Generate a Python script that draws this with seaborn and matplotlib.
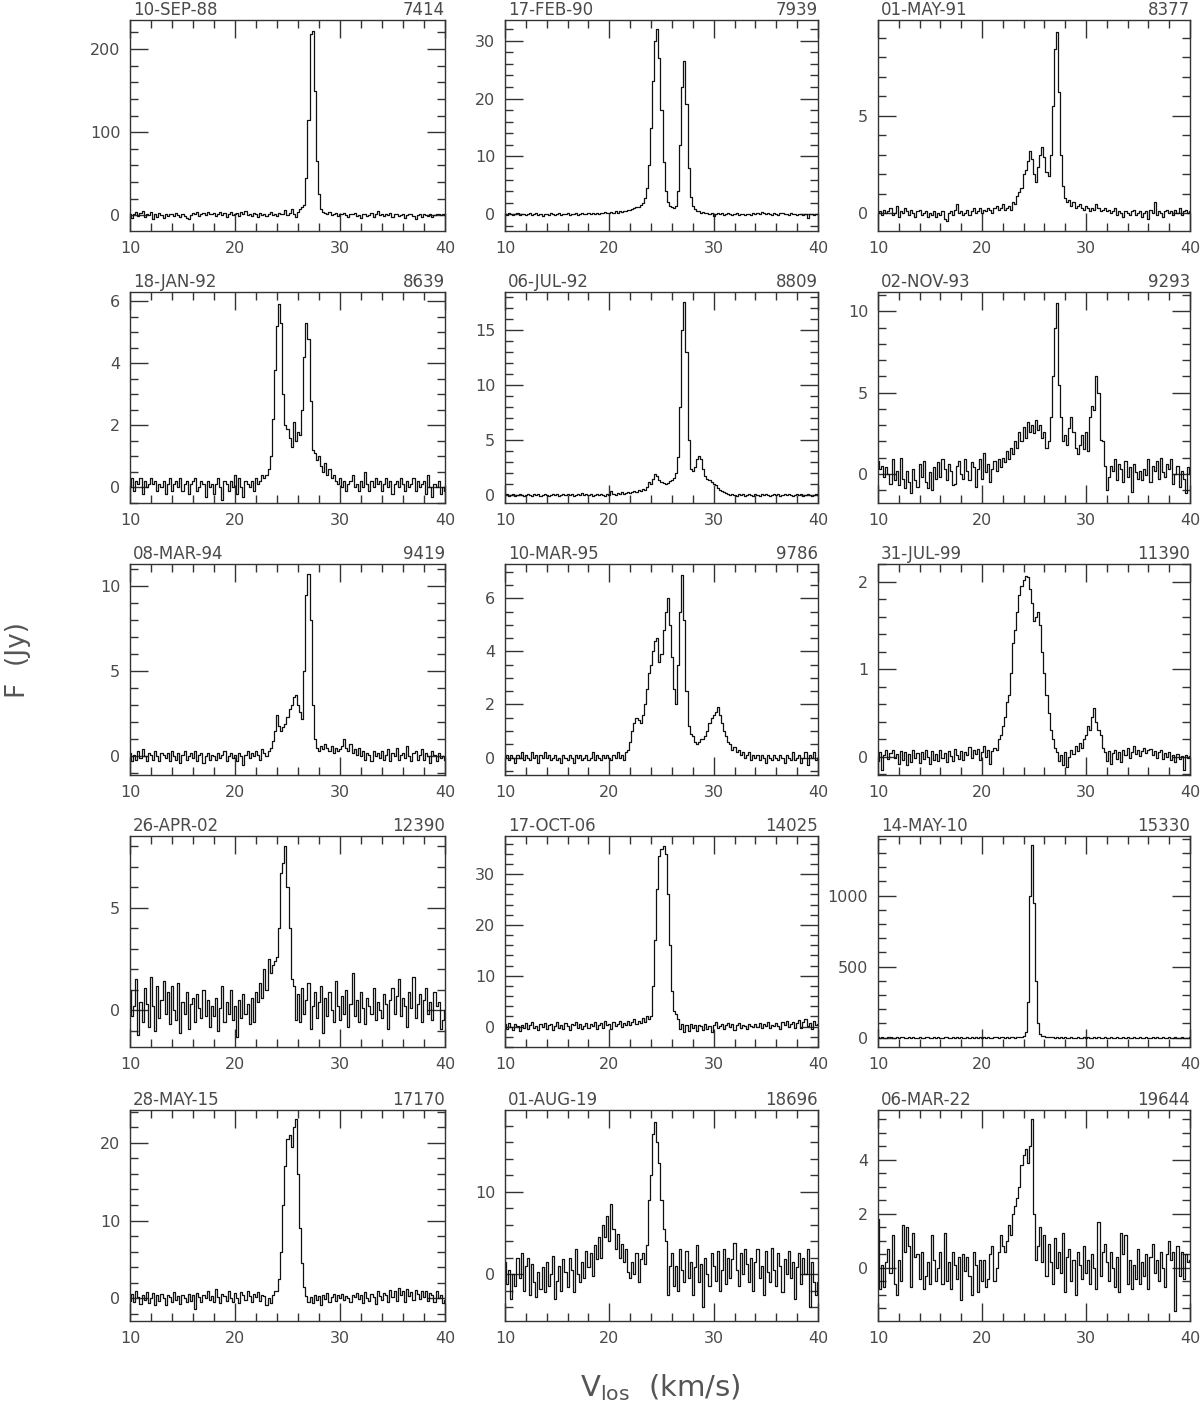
import numpy as np
import pandas as pd
import matplotlib
matplotlib.use("Agg")
import matplotlib.pyplot as plt
from matplotlib.ticker import MultipleLocator
import seaborn as sns

# velocity channels: start and width (km/s), 151 channels from 10 to 40
V0 = 10.0
DV = 0.2

dates = ["10-SEP-88", "17-FEB-90", "01-MAY-91",
         "18-JAN-92", "06-JUL-92", "02-NOV-93",
         "08-MAR-94", "10-MAR-95", "31-JUL-99",
         "26-APR-02", "17-OCT-06", "14-MAY-10",
         "28-MAY-15", "01-AUG-19", "06-MAR-22"]
days = ["7414", "7939", "8377", "8639", "8809", "9293", "9419", "9786",
        "11390", "12390", "14025", "15330", "17170", "18696", "19644"]

# flux (Jy) per channel
f_880910 = [1, -3, 2, 4, -1, 3, 5, -2, 2, 0,
            4, -4, 1, -2, 3, 0, -3, 2, -1, 1,
            2, -1, 3, 0, -2, 1, -1, -3, -5, 0,
            3, 1, 4, -1, 2, 3, 0, 4, 1, 2,
            3, -1, 2, 4, 0, 3, -2, 1, 4, 0,
            2, 3, -1, 4, 1, 5, 0, 2, -1, 3,
            1, -2, 3, 0, 2, -1, 1, 4, 0, 2,
            -1, 3, 1, 2, 6, 0, 3, 7, 1, -2,
            4, 7, 10, 12, 45, 115, 218, 222, 150, 65,
            25, 8, 4, 3, 1, 4, 0, 2, 3, -1,
            2, 1, 3, 0, -2, 2, 1, 3, -1, 0,
            -3, 1, 2, -1, 0, 3, -2, 1, 5, 0,
            2, -1, 1, 0, 3, -2, 1, 2, -1, 0,
            1, -3, 0, 2, 1, -1, -4, 0, 1, -2,
            2, 0, -1, 1, -2, 0, 1, 2, 0, 1,
            0]

f_900217 = [0.1, -0.1, 0.2, 0.0, -0.2, 0.1, 0.3, -0.1, 0.0, 0.1,
            -0.2, 0.1, 0.2, -0.1, 0.0, 0.2, -0.1, 0.1, -0.3, 0.0,
            0.1, -0.2, 0.2, 0.0, -0.1, 0.1, 0.2, -0.2, 0.0, 0.1,
            0.2, -0.1, 0.0, 0.1, 0.3, -0.1, 0.1, 0.2, 0.0, 0.1,
            0.2, 0.0, 0.3, 0.1, 0.2, 0.0, 0.3, 0.2, 0.4, 0.2,
            0.3, 0.4, 0.2, 0.5, 0.3, 0.5, 0.4, 0.6, 0.5, 0.8,
            0.7, 0.9, 1.0, 1.2, 1.3, 1.6, 2.0, 2.8, 4.5, 8.5,
            15.0, 23.0, 30.0, 32.0, 27.0, 18.0, 9.0, 4.0, 2.2, 1.5,
            1.2, 1.0, 1.5, 4.0, 12.0, 22.0, 26.5, 19.0, 8.0, 3.0,
            1.5, 0.9, 0.6, 0.5, 0.3, 0.4, 0.2, 0.3, 0.1, 0.2,
            -0.3, 0.1, 0.2, 0.0, 0.3, -0.1, 0.1, 0.2, 0.0, -0.1,
            0.1, 0.2, -0.1, 0.0, 0.1, -0.2, 0.0, 0.1, -0.1, 0.2,
            0.0, 0.3, 0.1, 0.4, 0.2, 0.0, 0.3, 0.1, -0.1, 0.2,
            0.1, -0.1, 0.2, 0.3, 0.0, 0.1, -0.2, 0.2, 0.1, 0.0,
            -0.1, 0.1, 0.0, -0.2, 0.1, -0.6, 0.0, 0.1, -0.1, 0.0,
            0.0]

f_910501 = [0.0, 0.1, -0.1, 0.2, 0.0, 0.1, 0.3, -0.1, 0.0, 0.4,
            -0.2, 0.1, 0.0, 0.3, 0.1, -0.1, 0.2, 0.0, -0.2, 0.1,
            0.2, -0.1, 0.0, 0.1, -0.2, 0.0, -0.1, 0.1, -0.2, 0.0,
            -0.1, 0.1, -0.3, -0.4, 0.0, 0.1, -0.1, 0.2, 0.5, 0.0,
            0.1, -0.1, 0.0, 0.2, -0.1, 0.1, 0.3, 0.0, 0.1, 0.3,
            0.0, 0.2, 0.1, 0.3, 0.2, 0.0, 0.3, 0.4, 0.2, 0.3,
            0.5, 0.2, 0.3, 0.4, 0.2, 0.6, 0.5, 0.9, 1.1, 1.3,
            2.0, 2.2, 2.7, 3.2, 2.8, 2.0, 1.6, 2.4, 3.0, 3.4,
            2.9, 2.1, 1.9, 3.0, 5.5, 8.4, 9.3, 6.2, 3.0, 1.4,
            0.8, 0.6, 0.7, 0.4, 0.6, 0.3, 0.4, 0.5, 0.3, 0.2,
            0.4, 0.3, 0.1, 0.3, 0.2, 0.5, 0.3, 0.1, 0.2, 0.3,
            0.1, 0.2, 0.0, 0.1, 0.3, -0.1, 0.1, 0.0, -0.2, 0.1,
            0.0, -0.1, 0.1, 0.2, -0.1, 0.0, 0.1, -0.2, 0.0, 0.1,
            -0.3, 0.2, 0.0, 0.6, -0.1, 0.1, 0.0, -0.2, 0.1, 0.2,
            0.0, 0.1, -0.1, 0.2, 0.0, 0.3, -0.1, 0.1, 0.2, 0.0,
            0.1]

f_920118 = [0.0, 0.3, -0.1, 0.2, 0.1, 0.3, -0.2, 0.2, 0.0, 0.1,
            0.3, 0.1, 0.2, -0.1, 0.1, 0.0, 0.2, -0.2, 0.1, 0.3,
            -0.1, 0.1, 0.2, 0.0, 0.3, -0.1, 0.1, 0.2, -0.2, 0.1,
            0.2, 0.3, -0.1, 0.0, 0.2, 0.1, -0.3, 0.2, 0.0, 0.1,
            -0.2, 0.1, 0.3, 0.0, -0.4, 0.2, 0.1, -0.1, 0.2, 0.0,
            0.4, -0.2, 0.3, 0.0, -0.3, 0.2, 0.1, 0.0, 0.2, -0.1,
            0.3, 0.1, 0.2, 0.4, 0.3, 0.4, 0.6, 1.0, 2.2, 3.8,
            5.2, 5.9, 5.3, 3.0, 2.0, 1.9, 1.6, 1.3, 2.1, 1.5,
            1.8, 1.7, 2.5, 4.2, 5.3, 4.8, 2.8, 1.2, 1.1, 0.9,
            1.0, 0.7, 0.5, 0.8, 0.4, 0.6, 0.3, 0.4, 0.2, 0.1,
            0.3, 0.0, 0.2, -0.1, 0.1, 0.2, 0.4, 0.0, 0.1, -0.1,
            0.2, 0.0, 0.5, 0.1, -0.1, 0.2, 0.0, 0.3, 0.1, 0.2,
            -0.1, 0.1, 0.3, 0.0, 0.2, -0.2, 0.1, 0.2, 0.0, 0.3,
            0.1, -0.1, 0.2, 0.0, 0.1, 0.3, -0.1, 0.2, 0.0, 0.1,
            0.2, -0.2, 0.4, 0.0, -0.3, 0.1, 0.0, 0.2, -0.2, 0.0,
            -0.1]

f_920706 = [0.0, 0.1, -0.1, 0.0, 0.1, -0.1, 0.0, 0.1, 0.0, -0.1,
            0.0, 0.1, 0.0, -0.1, 0.1, 0.0, 0.1, -0.1, 0.0, 0.1,
            0.0, -0.1, 0.0, 0.1, 0.0, 0.1, -0.1, 0.0, 0.1, 0.0,
            0.1, 0.0, 0.1, -0.1, 0.0, 0.1, 0.0, 0.2, 0.0, 0.1,
            0.0, 0.1, -0.1, 0.0, 0.1, 0.0, 0.1, 0.0, -0.1, 0.1,
            0.0, 0.4, 0.1, 0.0, 0.2, 0.1, 0.3, 0.1, 0.2, 0.3,
            0.2, 0.3, 0.4, 0.3, 0.5, 0.4, 0.6, 0.5, 0.8, 1.2,
            1.0, 1.5, 1.9, 1.8, 1.4, 1.2, 1.1, 1.0, 1.1, 1.3,
            1.4, 1.6, 2.0, 3.5, 8.0, 15.0, 17.6, 13.0, 5.0, 2.4,
            2.2, 2.6, 3.3, 3.6, 3.3, 2.4, 1.8, 1.5, 1.4, 1.2,
            1.0, 0.9, 0.7, 0.5, 0.4, 0.3, 0.2, 0.1, 0.0, 0.1,
            0.0, -0.1, 0.1, 0.0, 0.1, -0.1, 0.0, 0.1, 0.0, -0.1,
            0.1, 0.0, -0.1, 0.1, 0.0, 0.1, 0.0, -0.1, 0.0, 0.1,
            0.0, 0.1, -0.1, 0.0, 0.1, 0.0, 0.1, 0.0, -0.1, 0.0,
            0.1, 0.0, 0.1, -0.1, 0.0, 0.1, 0.0, -0.1, 0.0, 0.1,
            0.0]

f_931102 = [0.8, 0.3, 0.5, -0.2, 0.4, 0.0, -0.6, 0.9, -0.4, 0.2,
            -0.7, 1.0, -0.3, -0.9, 0.2, -0.5, -1.2, 0.3, -0.4, -0.8,
            0.6, -0.2, 0.8, -0.5, -0.9, 0.1, -1.0, 0.4, -0.3, 0.7,
            -0.2, 0.9, 0.3, -0.4, 0.6, 0.2, -0.7, -0.6, 0.5, 0.8,
            0.0, -0.3, 0.9, 0.2, -0.4, 0.7, 0.4, -0.8, 0.3, 0.9,
            -0.3, 1.3, 0.1, 0.6, -0.5, 0.3, 0.8, 0.2, 0.9, 0.4,
            1.0, 0.7, 1.4, 0.9, 1.6, 1.2, 2.0, 1.6, 2.6, 2.0,
            2.9, 2.2, 3.2, 2.6, 3.0, 2.5, 3.3, 2.7, 3.0, 2.2,
            2.6, 1.6, 2.0, 3.5, 6.0, 9.0, 10.5, 5.5, 3.5, 2.0,
            2.4, 1.8, 2.8, 3.5, 2.6, 1.6, 1.2, 1.8, 2.4, 1.5,
            2.6, 1.4, 3.5, 4.2, 3.9, 6.0, 5.0, 2.1, 2.0, 0.5,
            -1.0, -0.2, 0.5, 0.2, 0.9, -0.4, 0.6, 0.3, -0.5, 0.8,
            -0.2, 0.4, -1.1, 0.6, 0.1, -0.3, 0.2, -0.4, 0.3, -0.1,
            0.9, -0.5, 0.5, 0.2, 0.8, -0.3, 1.0, 0.1, -0.2, 0.6,
            0.3, 0.9, -0.6, 0.0, 0.5, -0.8, 0.2, -0.3, -1.2, 0.4,
            0.0]

f_940308 = [0.2, -0.3, 0.1, -0.2, 0.3, -0.1, 0.4, 0.0, -0.3, 0.2,
            0.1, -0.2, 0.3, 0.0, -0.3, 0.2, 0.1, -0.1, 0.2, -0.3,
            0.3, 0.0, -0.2, 0.2, -0.4, 0.1, 0.3, -0.2, 0.0, 0.2,
            -0.1, 0.3, -0.3, 0.1, 0.2, -0.4, 0.0, 0.2, -0.2, 0.1,
            0.0, -0.2, 0.2, -0.1, 0.1, 0.3, -0.3, 0.0, 0.2, -0.1,
            0.1, -0.3, 0.2, 0.0, -0.5, 0.1, 0.3, -0.1, 0.2, 0.0,
            0.3, 0.1, -0.2, 0.4, 0.2, 0.0, 0.3, 0.5, 0.9, 1.5,
            2.4, 1.8, 1.5, 1.7, 1.9, 2.3, 2.8, 3.0, 3.5, 3.6,
            3.0, 2.6, 2.2, 5.0, 9.5, 10.7, 8.0, 3.0, 1.0, 0.5,
            0.3, 0.6, 0.4, 0.7, 0.5, 0.3, 0.6, 0.2, 0.5, 0.3,
            0.4, 0.6, 1.0, 0.5, 0.3, 0.7, 0.2, 0.4, 0.1, 0.5,
            0.0, 0.3, -0.2, 0.2, 0.1, -0.3, 0.3, 0.0, 0.2, -0.1,
            0.3, -0.2, 0.1, 0.4, -0.3, 0.2, 0.0, 0.5, -0.2, 0.1,
            0.2, -0.1, 0.6, 0.0, -0.3, 0.2, 0.3, -0.2, 0.1, 0.4,
            -0.2, 0.2, 0.0, -0.4, 0.3, 0.1, -0.3, 0.2, -0.1, 0.0,
            -0.2]

f_950310 = [0.0, 0.1, -0.1, 0.1, 0.0, -0.2, 0.1, 0.0, 0.2, -0.1,
            0.1, 0.0, -0.1, 0.2, 0.0, 0.1, -0.2, 0.1, 0.0, 0.2,
            0.0, 0.1, -0.1, 0.0, 0.1, -0.1, 0.0, -0.2, 0.1, 0.0,
            -0.1, 0.1, 0.0, -0.2, 0.1, 0.0, 0.1, -0.1, 0.0, 0.1,
            -0.1, 0.0, 0.2, -0.1, 0.1, 0.0, -0.1, 0.1, 0.0, 0.1,
            0.0, -0.1, 0.1, 0.0, 0.2, 0.0, 0.1, -0.1, 0.2, 0.3,
            0.6, 1.0, 1.3, 1.5, 1.4, 1.3, 1.6, 2.0, 2.6, 3.2,
            3.5, 4.0, 4.4, 4.5, 3.6, 3.9, 4.8, 5.5, 6.0, 5.0,
            3.8, 2.6, 2.0, 3.5, 5.5, 6.9, 5.2, 2.5, 1.2, 0.9,
            0.8, 0.6, 0.5, 0.6, 0.7, 0.7, 0.8, 1.0, 1.3, 1.5,
            1.6, 1.7, 1.9, 1.6, 1.3, 1.0, 0.8, 0.6, 0.5, 0.3,
            0.4, 0.2, 0.3, 0.1, 0.2, 0.0, 0.1, 0.2, -0.1, 0.1,
            0.0, 0.1, -0.1, 0.1, 0.0, -0.2, 0.1, 0.0, -0.1, 0.1,
            0.0, -0.1, 0.1, 0.0, -0.2, 0.1, 0.0, -0.1, 0.2, -0.1,
            0.0, 0.1, -0.2, 0.0, 0.2, -0.3, 0.1, 0.0, 0.2, -0.1,
            0.0]

f_990731 = [-0.05, 0.05, -0.15, 0.02, 0.08, -0.03, 0.04, 0.07, -0.02, 0.03,
            -0.08, 0.06, -0.04, 0.05, -0.10, 0.03, -0.06, 0.08, -0.02, 0.04,
            -0.07, 0.05, -0.03, 0.07, 0.00, -0.09, 0.06, -0.04, 0.03, -0.05,
            0.08, -0.02, 0.04, -0.06, 0.06, 0.01, -0.05, 0.09, 0.02, -0.03,
            0.06, -0.04, 0.05, 0.02, 0.11, -0.02, 0.07, 0.03, 0.09, -0.04,
            0.05, 0.12, 0.00, 0.08, -0.08, 0.06, 0.10, 0.08, 0.20, 0.25,
            0.35, 0.45, 0.62, 0.70, 0.95, 1.30, 1.45, 1.65, 1.85, 1.95,
            2.02, 2.06, 2.05, 1.92, 1.75, 1.55, 1.60, 1.65, 1.50, 1.20,
            0.95, 0.70, 0.50, 0.30, 0.20, 0.10, 0.05, -0.05, 0.02, -0.10,
            0.05, -0.12, 0.00, 0.08, 0.03, 0.12, 0.06, 0.15, 0.10, 0.20,
            0.25, 0.35, 0.30, 0.45, 0.55, 0.40, 0.30, 0.25, 0.10, 0.05,
            -0.05, 0.06, -0.08, 0.04, 0.08, -0.03, 0.05, -0.06, 0.07, 0.02,
            0.10, -0.02, 0.05, 0.12, 0.03, 0.08, 0.01, 0.06, 0.10, 0.04,
            0.07, 0.09, 0.02, 0.06, -0.02, 0.05, 0.08, -0.03, 0.04, 0.00,
            0.05, -0.04, 0.02, -0.06, 0.03, -0.03, 0.01, -0.15, 0.02, -0.02,
            0.01]

f_020426 = [1.0, -0.3, 0.2, 1.5, -1.2, 0.4, -0.6, 1.1, 0.3, -0.8,
            1.6, 0.2, -1.0, 1.2, -0.4, 0.5, 1.4, -0.2, 0.9, -0.7,
            1.2, 0.0, -0.5, 1.3, -1.1, 0.4, -0.2, 0.9, -0.9, 0.3,
            0.6, -0.6, 0.8, 0.1, -0.4, 1.0, -0.3, 0.5, -0.8, 0.2,
            -0.3, 0.6, -1.0, 0.1, 1.2, -0.6, 0.4, -0.2, 1.0, -0.5,
            0.2, -1.3, 0.5, -0.4, 0.8, -0.2, 0.3, -0.7, 0.6, -0.6,
            0.9, 0.4, 1.3, 0.6, 2.0, 1.0, 2.5, 1.8, 2.2, 2.4,
            2.6, 4.0, 6.7, 7.2, 8.0, 6.0, 4.0, 1.5, 1.2, -0.5,
            0.8, -0.6, 1.1, -0.2, 0.5, 1.3, -0.9, 0.2, 0.9, -0.4,
            0.4, 1.2, -1.1, 0.6, -0.3, 0.9, 0.0, -0.6, 1.4, 0.2,
            -0.5, 0.7, -0.2, 1.0, -0.8, 0.3, 1.8, -0.3, 0.5, -0.6,
            0.9, 0.1, -0.7, 0.6, 0.2, -0.2, 1.1, -0.5, 0.4, 0.0,
            -0.4, 0.8, 0.3, -0.9, 0.5, 1.1, -0.2, 0.7, 1.5, -0.3,
            0.6, 0.2, -0.8, 0.9, 0.1, 1.6, -0.4, 0.3, 0.8, -0.6,
            0.5, 1.1, -0.2, 0.4, -0.5, 0.9, 0.2, 0.4, -0.9, -0.5,
            0.0]

f_061017 = [0.5, -0.4, 0.8, 0.0, -0.6, 0.6, 0.2, -0.8, 0.4, -0.2,
            0.7, -0.5, 0.3, 0.9, -0.3, 0.2, -0.7, 0.5, 0.0, 0.8,
            -0.4, 0.3, 0.6, -0.6, 0.2, 0.9, -0.2, 0.4, -0.5, 0.7,
            0.1, -0.6, 0.5, 0.3, 1.0, -0.2, 0.6, -0.4, 0.2, 0.8,
            -0.3, 0.5, 0.1, 0.9, -0.5, 0.4, 0.7, -0.2, 1.2, 0.3,
            0.6, -0.4, 0.9, 0.2, 0.5, 1.1, -0.1, 0.7, 0.4, 1.2,
            0.3, 0.9, 1.5, 0.6, 1.2, 0.8, 1.8, 1.0, 2.0, 1.6,
            2.0, 8.0, 17.0, 27.0, 33.5, 35.0, 35.5, 34.0, 26.0, 16.0,
            7.0, 3.0, 2.5, 1.5, -0.5, 0.6, -1.0, 0.3, -0.8, 0.5,
            -0.2, 0.4, -0.9, 0.3, 0.1, -0.7, 0.5, -0.4, 0.2, -1.0,
            0.4, 0.9, -0.3, 0.2, 0.6, -0.5, 0.3, 0.7, 0.0, 0.5,
            -0.6, 0.3, 0.8, -0.2, 0.4, 0.1, -0.4, 0.6, 0.2, -0.1,
            0.5, 0.0, 0.7, -0.3, 0.6, 0.2, 0.9, -0.2, 0.4, 0.1,
            0.8, 0.2, -0.4, 0.9, 0.3, 1.2, -0.1, 0.6, 1.0, -0.3,
            0.7, 1.4, -0.2, 0.9, 1.5, 0.1, 0.8, -0.5, 1.2, 0.4,
            0.6]

f_100514 = [1, -2, 3, 0, -1, 2, 1, -3, 0, 2,
            -1, 1, 2, -2, 0, 3, -1, 1, 0, -2,
            2, 0, -1, 1, 3, -2, 0, 1, -1, 2,
            0, -3, 1, 2, -1, 0, 2, -1, 1, 0,
            3, -1, 0, 2, -2, 1, 0, 3, -1, 1,
            0, 2, -1, 1, 0, -2, 2, 1, 0, 3,
            1, 0, 2, -1, 3, 1, 0, 2, 1, 4,
            8, 40, 250, 1000, 1360, 950, 400, 100, 25, 12,
            8, 5, 3, 2, 1, 0, 2, -1, 1, 0,
            1, -1, 0, 2, -1, 0, 1, -2, 0, 1,
            0, 1, -1, 0, 2, -1, 1, 0, -1, 1,
            -1, 0, 1, -2, 0, 1, 0, -1, 2, 0,
            1, -1, 0, 1, -1, 0, 2, 0, -1, 1,
            0, -2, 1, 0, 1, -1, 0, 1, 0, -1,
            1, 0, -1, 1, 0, -1, 2, 0, -1, 0,
            1]

f_150528 = [-0.3, 0.6, -0.5, 0.9, 0.2, -0.7, 0.5, -0.2, 0.8, -0.6,
            0.1, 0.7, -0.9, 0.4, -0.3, 0.6, 0.0, -0.8, 0.5, 0.2,
            -0.4, 0.8, -0.2, 0.3, -0.7, 0.5, 0.1, -0.5, 0.6, -0.3,
            0.4, -1.3, 0.7, 0.2, -0.4, 0.5, 0.0, 0.9, -0.2, 0.3,
            -0.5, 1.2, 0.2, -0.6, 0.6, 0.3, -0.3, 0.9, 0.1, -0.4,
            0.7, 0.0, -0.6, 0.8, 0.4, -0.2, 0.9, 0.3, -0.5, 0.6,
            0.2, 0.8, -0.3, 0.5, 0.3, -0.8, 0.1, -0.6, 0.4, 1.0,
            1.0, 2.5, 6.0, 12.0, 17.0, 20.5, 21.0, 19.5, 22.0, 23.0,
            16.0, 9.0, 4.5, 1.5, 0.3, -0.4, 0.2, -0.6, 0.4, -0.2,
            0.3, -0.8, 0.5, -0.1, 0.7, -0.4, 0.2, 0.6, -0.3, 0.4,
            0.0, 0.6, -0.2, 0.3, 0.1, -0.5, 0.5, 0.2, 0.7, -0.1,
            0.5, -0.6, 0.8, 0.1, -0.3, 0.6, 0.2, -0.7, 0.9, 0.3,
            -0.2, 0.7, 0.4, -0.5, 1.1, 0.2, 0.9, -0.3, 1.3, 0.5,
            1.0, -0.4, 1.2, 0.3, 0.8, -0.2, 1.1, 0.6, -0.1, 0.9,
            0.2, 1.0, -0.3, 0.7, 0.4, -0.5, 0.9, 0.1, 0.5, -0.6,
            -0.2]

f_190801 = [1.5, -1.2, 0.5, -3.0, 0.0, -1.5, 2.0, -0.5, 2.5, -2.0,
            1.0, 2.0, -2.5, 1.2, -1.0, -2.8, 0.3, -1.8, 0.8, -2.2,
            1.5, -1.5, 0.0, 2.2, -3.0, -0.8, 1.0, -2.0, 1.8, 0.2,
            -1.6, 2.0, 0.5, -2.2, 3.0, 0.0, -1.0, 1.5, -0.5, 2.8,
            0.8, 2.5, -0.2, 3.5, 1.8, 4.5, 2.0, 6.0, 4.5, 7.0,
            4.0, 8.5, 5.5, 3.0, 4.8, 2.0, 3.6, 1.5, 3.0, 0.2,
            -0.5, 1.5, 0.0, 2.5, -1.0, 1.8, 2.5, 1.2, 3.5, 9.0,
            12.0, 17.0, 18.5, 16.0, 13.5, 9.0, 5.5, 4.0, -2.5, 1.0,
            2.5, -1.5, 1.0, -2.0, 3.0, 0.5, -1.0, 2.8, -0.5, 1.5,
            -2.5, 0.8, 3.5, -1.0, 1.2, -4.0, 2.0, 0.0, -1.5, 2.5,
            1.0, -0.8, 2.8, -2.0, 0.5, 3.0, -1.2, 2.0, -0.5, 1.8,
            3.8, 0.5, -1.5, 2.5, 0.0, 3.0, 1.2, -1.0, 2.0, -2.0,
            1.5, 3.0, -0.5, 1.0, -2.5, 2.8, 0.2, -1.0, 3.2, 0.5,
            -1.5, 2.5, 1.0, -2.2, 1.8, 0.0, 2.8, -0.5, 1.5, -3.0,
            0.8, 2.5, -1.2, 2.0, 0.0, 3.0, -4.0, 1.5, -1.0, -2.5,
            -1.0]

f_220306 = [1.8, -0.8, 0.1, -0.7, 0.2, 0.7, -0.2, 1.2, -0.6, -1.0,
            0.3, -0.5, 1.6, 0.6, 1.5, 0.8, -0.7, 1.3, 0.4, 0.5,
            -0.4, 0.6, -0.8, -0.3, 0.2, -0.6, 1.2, 0.3, -0.5, 0.0,
            0.6, -0.6, 1.3, -0.5, 0.2, -0.8, 0.6, 0.1, -0.4, 0.4,
            -1.2, 0.5, -0.1, 0.4, -0.3, -1.0, 0.6, 0.1, -0.9, 0.3,
            -0.5, 0.3, -0.7, -0.4, 0.5, 0.8, -0.5, 0.0, 0.6, 1.2,
            0.8, 0.6, 1.0, 1.6, 1.2, 2.0, 2.3, 2.6, 3.0, 3.8,
            4.2, 4.4, 3.9, 4.5, 5.5, 2.0, 0.3, 0.8, 1.5, 0.2,
            1.2, -0.3, 0.9, 0.2, -0.6, 1.1, 0.0, 0.6, -0.2, 1.3,
            -0.9, 0.4, 0.7, -0.5, 0.3, -1.0, 0.6, 0.1, -0.4, 0.8,
            -0.2, 0.3, -0.6, 0.5, 0.0, -0.8, 1.7, -0.3, 0.6, 0.9,
            0.2, -0.5, 0.6, 0.0, -0.7, 0.4, -0.9, 1.3, 0.5, 1.2,
            -0.6, 0.3, -0.8, 0.1, -0.4, 0.7, -0.6, 0.2, -0.3, 0.5,
            -0.8, 0.4, 0.9, -0.2, 0.3, -0.5, 0.6, 0.0, -0.7, 0.5,
            1.0, 0.3, 0.6, -1.6, 0.8, -0.3, 0.6, -0.4, 0.5, 0.2,
            0.3]

spectra = [f_880910, f_900217, f_910501, f_920118, f_920706, f_931102,
           f_940308, f_950310, f_990731, f_020426, f_061017, f_100514,
           f_150528, f_190801, f_220306]

# y-axis range and tick steps per panel
y_lims = [(-19, 235), (-2.9, 33.6), (-0.9, 9.9), (-0.5, 6.3), (-0.7, 18.5),
          (-1.8, 11.2), (-1.1, 11.3), (-0.66, 7.3), (-0.21, 2.2), (-1.8, 8.5),
          (-4, 37.5), (-66, 1420), (-2.9, 24.2), (-5.7, 19.9), (-1.97, 5.85)]
y_major = [100, 10, 5, 2, 5, 5, 5, 2, 1, 5, 10, 500, 10, 10, 2]
y_minor = [20, 2, 1, 0.5, 1, 1, 1, 0.5, 0.2, 1, 2, 100, 2, 2, 0.5]

sns.set_theme(style="ticks")
plt.rcParams["font.family"] = ["DejaVu Sans"]

W, H = 1200, 1410
col_left = [130, 505, 878]
col_width = [315, 313, 312]
row_bottom = [231, 503, 775, 1047, 1321]
row_height = 211
txt = "#4a4a4a"

fig = plt.figure(figsize=(W / 100, H / 100), dpi=100)

for k, flux in enumerate(spectra):
    r, c = divmod(k, 3)
    ax = fig.add_axes([col_left[c] / W, 1 - row_bottom[r] / H,
                       col_width[c] / W, row_height / H])
    df = pd.DataFrame({"v": V0 + DV * np.arange(len(flux)), "f": flux})
    sns.lineplot(data=df, x="v", y="f", ax=ax, color="#111111", lw=0.9,
                 drawstyle="steps-mid", estimator=None, sort=False)
    ax.set_xlim(10, 40)
    ax.set_ylim(*y_lims[k])
    ax.xaxis.set_major_locator(MultipleLocator(10))
    ax.xaxis.set_minor_locator(MultipleLocator(2))
    ax.yaxis.set_major_locator(MultipleLocator(y_major[k]))
    ax.yaxis.set_minor_locator(MultipleLocator(y_minor[k]))
    ax.tick_params(which="both", direction="in", top=True, right=True,
                   color="#333333", labelcolor=txt, labelsize=11.5, pad=7)
    ax.tick_params(which="major", length=13, width=1)
    ax.tick_params(which="minor", length=6, width=1)
    for s in ax.spines.values():
        s.set_color("#333333")
        s.set_linewidth(1)
    ax.set_xlabel("")
    ax.set_ylabel("")
    ax.text(0.01, 1.004, dates[k], transform=ax.transAxes, ha="left",
            va="bottom", fontsize=12, color=txt)
    ax.text(1.0, 1.004, days[k], transform=ax.transAxes, ha="right",
            va="bottom", fontsize=12, color=txt)

fig.text(18 / W, 1 - 660 / H, "F  (Jy)", rotation=90, ha="center",
         va="center", fontsize=19, color="#555555")
fig.text(660 / W, 1 - 1388 / H, r"V$_{\rm los}$  (km/s)", ha="center",
         va="center", fontsize=21, color="#555555")

fig.savefig("out.png", dpi=100)
